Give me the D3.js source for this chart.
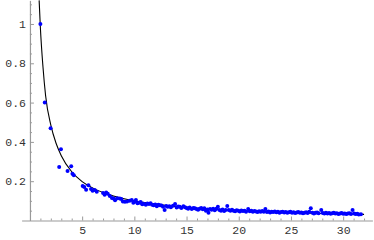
<!DOCTYPE html>
<html>
<head>
<meta charset="utf-8">
<script src="https://cdn.jsdelivr.net/npm/d3@7"></script>
<style>
  body { margin: 0; background: #fff; }
  svg text { font-family: "Liberation Mono", "DejaVu Sans Mono", monospace; font-size: 11.5px; fill: #333; }
</style>
</head>
<body>
<div id="chart"></div>
<script>
// Tick values and labels
const xMajor = [5, 10, 15, 20, 25, 30];
const xMinor = [1,2,3,4,6,7,8,9,11,12,13,14,16,17,18,19,21,22,23,24,26,27,28,29,31,32];
const yMajor = [0.2, 0.4, 0.6, 0.8, 1];
const yLabels = ["0.2", "0.4", "0.6", "0.8", "1"];
const yMinor = [0.05,0.1,0.15,0.25,0.3,0.35,0.45,0.5,0.55,0.65,0.7,0.75,0.85,0.9,0.95,1.05,1.1];

// Fitted curve, points
const curveX = [0.88, 1, 1.25, 1.5, 2, 2.5, 3, 4, 5, 6, 8, 10, 13, 16, 20, 25, 28, 32];
const curveY = [1.12, 0.98, 0.78, 0.635, 0.485, 0.393, 0.33, 0.248, 0.198, 0.166, 0.125, 0.1, 0.077, 0.0625, 0.05, 0.04, 0.0357, 0.031];

// Scatter points [x, y]
const points = [
  [1.0,1.0],[1.42,0.60],[1.98,0.47],[2.97,0.362],[2.8,0.272],[3.6,0.252],[3.95,0.276],[4.07,0.238],[4.2,0.23],
  [5.05,0.175],[5.2,0.17],[5.38,0.156],[5.6,0.179],[5.85,0.16],[6.0,0.152],[6.2,0.155],[6.4,0.146],
  [7.0,0.14],[7.15,0.131],[7.3,0.142],[7.45,0.136],[7.65,0.125],[7.85,0.114],[8.0,0.112],[8.15,0.103],
  [8.35,0.113],[8.6,0.112],[8.75,0.11],[8.9,0.097],[9.1,0.096],[9.3,0.097],[9.55,0.1],[9.75,0.104],[9.9,0.09],
  [10.0,0.095],[10.15,0.104],[10.3,0.088],[10.45,0.09],[10.6,0.094],[10.75,0.083],[10.9,0.085],[11.1,0.08],
  [11.25,0.086],[11.4,0.084],[11.55,0.088],[11.7,0.08],[11.85,0.078],[12.0,0.082],[12.15,0.072],[12.3,0.08],
  [12.45,0.078],[12.6,0.076],[12.75,0.07],[12.9,0.053],[13.05,0.074],[13.2,0.07],[13.35,0.072],[13.5,0.068],
  [13.7,0.075],[13.9,0.084],[14.05,0.066],[14.2,0.071],[14.35,0.07],[14.5,0.063],[14.7,0.072],[14.85,0.068],
  [15.0,0.064],[15.15,0.06],[15.3,0.066],[15.5,0.058],[15.65,0.064],[15.8,0.062],[15.95,0.059],[16.1,0.055],
  [16.25,0.06],[16.4,0.063],[16.55,0.057],[16.7,0.062],[16.85,0.05],[17.0,0.056],[17.1,0.04],[17.25,0.058],
  [17.4,0.055],[17.55,0.06],[17.7,0.052],[17.85,0.06],[18.0,0.07],[18.15,0.054],[18.3,0.05],[18.45,0.056],
  [18.6,0.048],[18.75,0.053],[18.9,0.074],[19.05,0.053],[19.2,0.049],[19.35,0.055],[19.5,0.05],[19.65,0.047],
  [19.8,0.052],[19.95,0.05],[20.1,0.046],[20.25,0.051],[20.4,0.048],[20.55,0.05],[20.7,0.045],[20.9,0.058],
  [21.05,0.047],[21.2,0.049],[21.35,0.045],[21.5,0.048],[21.65,0.046],[21.8,0.043],[21.95,0.047],[22.1,0.044],
  [22.25,0.048],[22.4,0.045],[22.55,0.058],[22.7,0.043],[22.85,0.046],[23.0,0.041],[23.15,0.045],[23.3,0.043],
  [23.45,0.046],[23.6,0.042],[23.75,0.044],[23.9,0.04],[24.05,0.043],[24.2,0.045],[24.35,0.041],[24.5,0.043],
  [24.65,0.039],[24.8,0.042],[24.95,0.044],[25.1,0.04],[25.25,0.042],[25.4,0.038],[25.55,0.041],[25.7,0.043],
  [25.85,0.039],[26.0,0.041],[26.15,0.037],[26.3,0.04],[26.45,0.042],[26.6,0.038],[26.75,0.045],[26.9,0.062],
  [27.05,0.04],[27.2,0.036],[27.35,0.039],[27.5,0.041],[27.65,0.037],[27.9,0.053],[28.05,0.038],[28.2,0.035],
  [28.35,0.039],[28.5,0.036],[28.65,0.038],[28.8,0.034],[28.95,0.037],[29.1,0.039],[29.25,0.035],[29.4,0.037],
  [29.55,0.033],[29.7,0.036],[29.85,0.038],[30.0,0.034],[30.15,0.036],[30.3,0.033],[30.45,0.035],[30.6,0.037],
  [30.75,0.033],[30.9,0.053],[31.05,0.036],[31.2,0.033],[31.35,0.034],[31.5,0.031],[31.7,0.032]
];

const width = 374, height = 240;
const svg = d3.select("#chart").append("svg").attr("width", width).attr("height", height);

const x = d3.scaleLinear().domain([-0.8, 32.8]).range([21.6, 372.4]);
const y = d3.scaleLinear().domain([0, 1.12]).range([220.5, 0.4]);

// Axes: gray lines, inward ticks like Mathematica
const axisColor = "#999";
function styleAxis(g) {
  g.select(".domain").attr("stroke", axisColor).attr("stroke-width", 1.2);
  g.selectAll(".tick line").attr("stroke", axisColor);
}

svg.append("g")
  .attr("transform", `translate(0,${y(0)})`)
  .call(d3.axisBottom(x).tickValues(xMinor).tickSize(-2).tickSizeOuter(0).tickFormat(""))
  .call(styleAxis);
svg.append("g")
  .attr("transform", `translate(0,${y(0)})`)
  .call(d3.axisBottom(x).tickValues(xMajor).tickSize(-4).tickSizeOuter(0).tickPadding(5).tickFormat(d3.format("d")))
  .call(styleAxis)
  .call(g => g.select(".domain").remove())
  .call(g => g.selectAll("text").attr("fill", "#333"));

y.range([220.5, 0.4]);
svg.append("g")
  .attr("transform", `translate(${x(0)},0)`)
  .call(d3.axisLeft(y).tickValues(yMinor).tickSize(-2).tickSizeOuter(0).tickFormat(""))
  .call(styleAxis);
svg.append("g")
  .attr("transform", `translate(${x(0)},0)`)
  .call(d3.axisLeft(y).tickValues(yMajor).tickSize(-4).tickSizeOuter(0).tickPadding(4)
    .tickFormat((d, i) => yLabels[i]))
  .call(styleAxis)
  .call(g => g.select(".domain").remove())
  .call(g => g.selectAll("text").attr("fill", "#333"));

// Fitted curve
const curveData = curveX.map((d, i) => ({x: d, y: curveY[i]}));
svg.append("path")
  .datum(curveData)
  .attr("fill", "none")
  .attr("stroke", "#000")
  .attr("stroke-width", 1.1)
  .attr("d", d3.line().x(d => x(d.x)).y(d => y(d.y)).curve(d3.curveMonotoneX));

// Points
svg.append("g")
  .selectAll("circle")
  .data(points)
  .enter()
  .append("circle")
  .attr("cx", d => x(d[0]))
  .attr("cy", d => y(d[1]))
  .attr("r", 2)
  .attr("fill", "#0000ff");
</script>
</body>
</html>
